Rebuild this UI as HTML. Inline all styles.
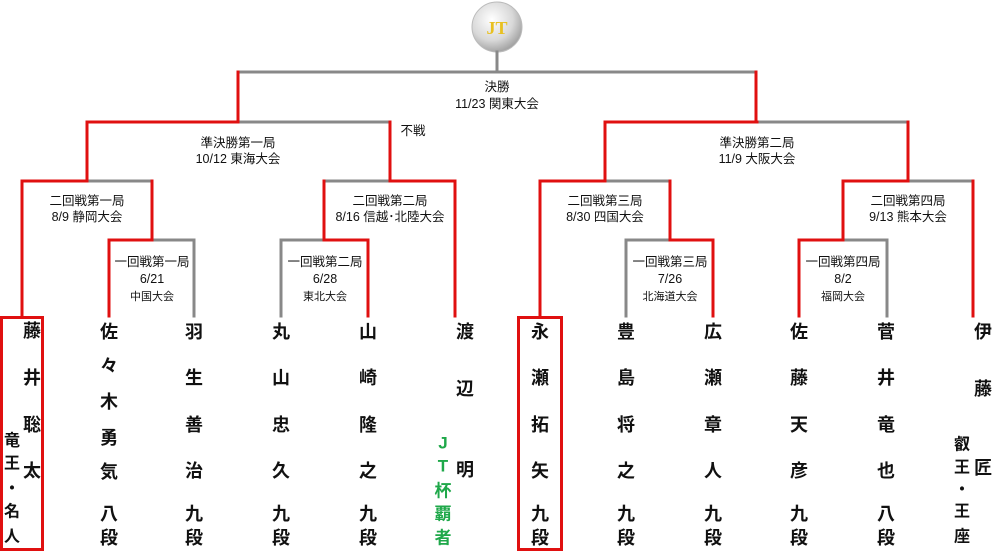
<!DOCTYPE html>
<html><head><meta charset="utf-8"><style>
html,body{margin:0;padding:0;background:#fff;}
svg{display:block;}
text{font-family:"Liberation Sans","Noto Sans CJK JP",sans-serif;fill:#111;}
.l{font-size:12.5px;}
.s{font-size:11px;}
.n{font-size:18px;font-weight:bold;}
.t{font-size:16px;}
.g{fill:#1fa84a;font-size:17px;}
</style></head><body>
<svg width="996" height="552" viewBox="0 0 996 552" xmlns="http://www.w3.org/2000/svg">
<defs>
<radialGradient id="rg" cx="40%" cy="35%" r="70%">
<stop offset="0" stop-color="#ffffff"/><stop offset="0.6" stop-color="#d8d8d8"/><stop offset="1" stop-color="#9a9a9a"/>
</radialGradient>
</defs>
<circle cx="497" cy="27" r="25" fill="url(#rg)" stroke="#bbb"/>
<text x="497" y="34" text-anchor="middle" style="font-size:18px;font-weight:bold;fill:#e8c020;font-family:'Liberation Serif',serif">JT</text>
<g fill="none" stroke-width="3" stroke-linecap="square">
<g stroke="#888">
<line x1="497" y1="52" x2="497" y2="72"/>
<line x1="238" y1="72" x2="756" y2="72"/>
<line x1="238" y1="122" x2="390" y2="122"/>
<line x1="87" y1="181" x2="152" y2="181"/>
<line x1="324" y1="181" x2="390" y2="181"/>
<line x1="152" y1="240" x2="194" y2="240"/>
<line x1="194" y1="240" x2="194" y2="316"/>
<line x1="281" y1="240" x2="324" y2="240"/>
<line x1="281" y1="240" x2="281" y2="316"/>
<line x1="757" y1="122" x2="908" y2="122"/>
<line x1="605" y1="181" x2="670" y2="181"/>
<line x1="626" y1="240" x2="670" y2="240"/>
<line x1="626" y1="240" x2="626" y2="316"/>
<line x1="908" y1="181" x2="973" y2="181"/>
<line x1="843" y1="240" x2="887" y2="240"/>
<line x1="887" y1="240" x2="887" y2="316"/>
</g>
<g stroke="#e01010">
<line x1="238" y1="72" x2="238" y2="122"/>
<line x1="87" y1="122" x2="238" y2="122"/>
<line x1="87" y1="122" x2="87" y2="181"/>
<line x1="390" y1="122" x2="390" y2="181"/>
<line x1="22" y1="181" x2="87" y2="181"/>
<line x1="22" y1="181" x2="22" y2="316"/>
<line x1="152" y1="181" x2="152" y2="240"/>
<line x1="109" y1="240" x2="152" y2="240"/>
<line x1="109" y1="240" x2="109" y2="316"/>
<line x1="390" y1="181" x2="455" y2="181"/>
<line x1="455" y1="181" x2="455" y2="316"/>
<line x1="324" y1="181" x2="324" y2="240"/>
<line x1="324" y1="240" x2="368" y2="240"/>
<line x1="368" y1="240" x2="368" y2="316"/>
<line x1="756" y1="72" x2="756" y2="122"/>
<line x1="605" y1="122" x2="757" y2="122"/>
<line x1="605" y1="122" x2="605" y2="181"/>
<line x1="908" y1="122" x2="908" y2="181"/>
<line x1="540" y1="181" x2="605" y2="181"/>
<line x1="540" y1="181" x2="540" y2="316"/>
<line x1="670" y1="181" x2="670" y2="240"/>
<line x1="670" y1="240" x2="713" y2="240"/>
<line x1="713" y1="240" x2="713" y2="316"/>
<line x1="843" y1="181" x2="908" y2="181"/>
<line x1="843" y1="181" x2="843" y2="240"/>
<line x1="973" y1="181" x2="973" y2="316"/>
<line x1="799" y1="240" x2="843" y2="240"/>
<line x1="799" y1="240" x2="799" y2="316"/>
</g>
<rect x="1.5" y="317.5" width="41" height="232" stroke="#e01010"/>
<rect x="518.5" y="317.5" width="43" height="232" stroke="#e01010"/>
</g>
<g text-anchor="middle" class="l">
<text x="497" y="91">決勝</text><text x="497" y="108">11/23 関東大会</text>
<text x="238" y="147">準決勝第一局</text><text x="238" y="163">10/12 東海大会</text>
<text x="413" y="135">不戦</text>
<text x="757" y="147">準決勝第二局</text><text x="757" y="163">11/9 大阪大会</text>
<text x="87" y="205">二回戦第一局</text><text x="87" y="221">8/9 静岡大会</text>
<text x="390" y="205">二回戦第二局</text><text x="390" y="221">8/16 信越･北陸大会</text>
<text x="605" y="205">二回戦第三局</text><text x="605" y="221">8/30 四国大会</text>
<text x="908" y="205">二回戦第四局</text><text x="908" y="221">9/13 熊本大会</text>
<text x="152" y="266">一回戦第一局</text><text x="152" y="283">6/21</text><text x="152" y="300" class="s">中国大会</text>
<text x="325" y="266">一回戦第二局</text><text x="325" y="283">6/28</text><text x="325" y="300" class="s">東北大会</text>
<text x="670" y="266">一回戦第三局</text><text x="670" y="283">7/26</text><text x="670" y="300" class="s">北海道大会</text>
<text x="843" y="266">一回戦第四局</text><text x="843" y="283">8/2</text><text x="843" y="300" class="s">福岡大会</text>
</g>
<g text-anchor="middle" class="n" dominant-baseline="central">
<text x="32" y="331">藤</text><text x="32" y="378">井</text><text x="32" y="425">聡</text><text x="32" y="471">太</text>
<text x="12" y="441" class="t">竜</text><text x="12" y="464" class="t">王</text><text x="12" y="489" class="t">・</text><text x="12" y="512" class="t">名</text><text x="12" y="537" class="t">人</text>
<text x="109" y="332">佐</text><text x="109" y="366">々</text><text x="109" y="402">木</text><text x="109" y="438">勇</text><text x="109" y="472">気</text><text x="109" y="514">八</text><text x="109" y="538">段</text>
<text x="194" y="332">羽</text><text x="194" y="378">生</text><text x="194" y="425">善</text><text x="194" y="471">治</text><text x="194" y="514">九</text><text x="194" y="538">段</text>
<text x="281" y="332">丸</text><text x="281" y="378">山</text><text x="281" y="425">忠</text><text x="281" y="471">久</text><text x="281" y="514">九</text><text x="281" y="538">段</text>
<text x="368" y="332">山</text><text x="368" y="378">崎</text><text x="368" y="425">隆</text><text x="368" y="471">之</text><text x="368" y="514">九</text><text x="368" y="538">段</text>
<text x="465" y="332">渡</text><text x="465" y="389">辺</text><text x="465" y="470">明</text>
<text x="443" y="443" class="g">J</text><text x="443" y="466" class="g">T</text><text x="443" y="491" class="g">杯</text><text x="443" y="514" class="g">覇</text><text x="443" y="538" class="g">者</text>
<text x="540" y="332">永</text><text x="540" y="378">瀬</text><text x="540" y="425">拓</text><text x="540" y="471">矢</text><text x="540" y="514">九</text><text x="540" y="538">段</text>
<text x="626" y="332">豊</text><text x="626" y="378">島</text><text x="626" y="425">将</text><text x="626" y="471">之</text><text x="626" y="514">九</text><text x="626" y="538">段</text>
<text x="713" y="332">広</text><text x="713" y="378">瀬</text><text x="713" y="425">章</text><text x="713" y="471">人</text><text x="713" y="514">九</text><text x="713" y="538">段</text>
<text x="799" y="332">佐</text><text x="799" y="378">藤</text><text x="799" y="425">天</text><text x="799" y="471">彦</text><text x="799" y="514">九</text><text x="799" y="538">段</text>
<text x="886" y="332">菅</text><text x="886" y="378">井</text><text x="886" y="425">竜</text><text x="886" y="471">也</text><text x="886" y="514">八</text><text x="886" y="538">段</text>
<text x="983" y="332">伊</text><text x="983" y="389">藤</text><text x="983" y="468">匠</text>
<text x="962" y="445" class="t">叡</text><text x="962" y="468" class="t">王</text><text x="962" y="490" class="t">・</text><text x="962" y="512" class="t">王</text><text x="962" y="537" class="t">座</text>
</g>
</svg>
</body></html>
